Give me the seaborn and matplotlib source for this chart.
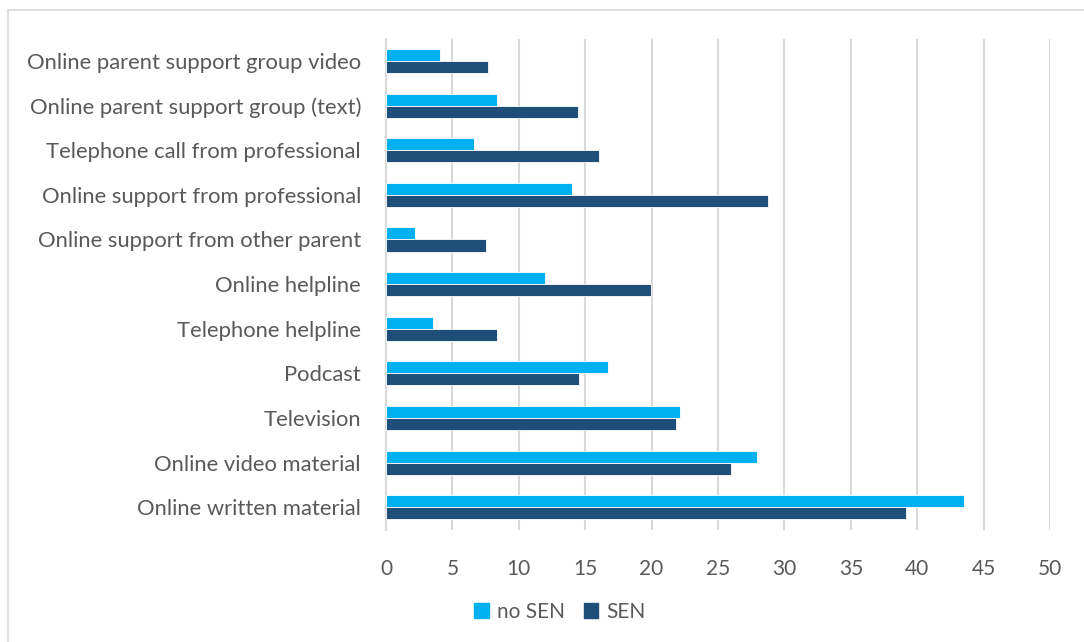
import matplotlib
matplotlib.use("Agg")
import matplotlib.pyplot as plt
from matplotlib.lines import Line2D
import seaborn as sns
import pandas as pd

categories = [
    "Online parent support group video",
    "Online parent support group (text)",
    "Telephone call from professional",
    "Online support from professional",
    "Online support from other parent",
    "Online helpline",
    "Telephone helpline",
    "Podcast",
    "Television",
    "Online video material",
    "Online written material",
]
no_sen = [4.05, 8.35, 6.65, 14.0, 2.15, 11.95, 3.55, 16.7, 22.15, 27.9, 43.5]
sen = [7.7, 14.45, 16.05, 28.8, 7.5, 19.95, 8.35, 14.55, 21.85, 25.95, 39.15]
series = ["no SEN", "SEN"]
colors = ["#00B0F0", "#1F4E79"]
xticks = [0, 5, 10, 15, 20, 25, 30, 35, 40, 45, 50]

df = pd.DataFrame({
    "category": categories * 2,
    "value": no_sen + sen,
    "group": [series[0]] * len(categories) + [series[1]] * len(categories),
})

sns.set_theme(style="white")
plt.rcParams["font.family"] = ["Lato", "DejaVu Sans"]
text_color = "#595959"

fig = plt.figure(figsize=(10.84, 6.42), dpi=100)
ax = fig.add_axes([386 / 1084, 1 - 529.5 / 642, (1050 - 386) / 1084, (529.5 - 38.7) / 642])

sns.barplot(data=df, y="category", x="value", hue="group", order=categories,
            hue_order=series, palette=colors, saturation=1, orient="h", width=0.54, gap=0,
            edgecolor="white", linewidth=0.6, ax=ax, zorder=3)

ax.set_xlim(0, 50)
ax.set_xticks(xticks)
ax.set_xticklabels([str(t) for t in xticks])
ax.set_xlabel("")
ax.set_ylabel("")
ax.grid(axis="x", color="#D9D9D9", linewidth=1.5, zorder=0)
ax.grid(axis="y", visible=False)
for s in ["top", "right", "bottom"]:
    ax.spines[s].set_visible(False)
ax.spines["left"].set_color("#D9D9D9")
ax.spines["left"].set_linewidth(1.5)
ax.tick_params(axis="x", colors=text_color, labelsize=15, length=0, pad=21)
ax.tick_params(axis="y", colors=text_color, labelsize=15.8, length=0, pad=18)

leg = ax.get_legend()
if leg is not None:
    leg.remove()
handles = [plt.Rectangle((0, 0), 1, 1, color=c) for c in colors]
fig.legend(handles, series, loc="center", bbox_to_anchor=(560 / 1084, 1 - 612 / 642),
           ncol=2, frameon=False, fontsize=15, labelcolor=text_color,
           handlelength=0.7, handleheight=0.75, handletextpad=0.4, columnspacing=0.9)

fig.add_artist(Line2D([8 / 1084, 8 / 1084], [0, 1 - 10 / 642], transform=fig.transFigure,
                      color="#D9D9D9", linewidth=1.2))
fig.add_artist(Line2D([8 / 1084, 1], [1 - 10 / 642, 1 - 10 / 642], transform=fig.transFigure,
                      color="#D9D9D9", linewidth=1.2))

fig.savefig("out.png", dpi=100)
